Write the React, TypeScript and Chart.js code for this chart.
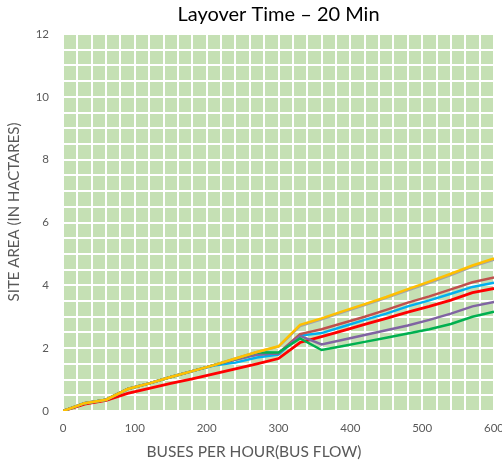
import React, { useEffect, useRef } from "react";
import { Chart, registerables } from "chart.js";

Chart.register(...registerables);

const busFlow = [0, 30, 60, 90, 120, 150, 180, 210, 240, 270, 300, 330, 360, 390, 420, 450, 480, 510, 540, 570, 600];

const yellowSeries = [0, 0.25, 0.36, 0.7, 0.88, 1.08, 1.27, 1.46, 1.67, 1.88, 2.06, 2.74, 2.95, 3.18, 3.4, 3.63, 3.88, 4.12, 4.37, 4.63, 4.86];
const graySeries = [0, 0.25, 0.36, 0.7, 0.88, 1.08, 1.27, 1.46, 1.67, 1.88, 2.05, 2.7, 2.92, 3.15, 3.37, 3.6, 3.84, 4.08, 4.33, 4.6, 4.82];
const greenSeries = [0, 0.25, 0.36, 0.7, 0.88, 1.08, 1.27, 1.46, 1.66, 1.87, 1.86, 2.31, 1.94, 2.07, 2.2, 2.33, 2.47, 2.6, 2.77, 3.0, 3.16];
const purpleSeries = [0, 0.25, 0.36, 0.7, 0.88, 1.08, 1.27, 1.46, 1.64, 1.8, 1.84, 2.39, 2.12, 2.27, 2.42, 2.57, 2.72, 2.9, 3.1, 3.33, 3.47];
const brownSeries = [0, 0.25, 0.36, 0.7, 0.88, 1.08, 1.27, 1.46, 1.64, 1.8, 1.84, 2.45, 2.6, 2.8, 3.0, 3.22, 3.45, 3.65, 3.87, 4.1, 4.25];
const blueSeries = [0, 0.25, 0.36, 0.7, 0.88, 1.08, 1.27, 1.45, 1.54, 1.7, 1.8, 2.4, 2.48, 2.69, 2.9, 3.1, 3.33, 3.52, 3.73, 3.95, 4.08];
const redSeries = [0, 0.22, 0.34, 0.56, 0.72, 0.88, 1.02, 1.18, 1.34, 1.5, 1.67, 2.18, 2.37, 2.56, 2.76, 2.95, 3.15, 3.33, 3.53, 3.77, 3.9];

const seriesNames = ["Series 1", "Series 2", "Series 3", "Series 4", "Series 5", "Series 6", "Series 7"];

const xTickLabels = [0, 100, 200, 300, 400, 500, 600];
const yTickLabels = [0, 2, 4, 6, 8, 10, 12];

const chartTitle = "Layover Time – 20 Min";
const xTitle = "BUSES PER HOUR(BUS FLOW)";
const yTitle = "SITE AREA (IN HACTARES)";

const FONT = "Lato, 'Open Sans', sans-serif";

export default function App() {
  const ref = useRef<HTMLCanvasElement | null>(null);

  useEffect(() => {
    document.body.style.margin = "0";
    const canvas = ref.current;
    if (!canvas) return;

    const toPts = (ys: number[]) => busFlow.map((x, i) => ({ x, y: ys[i] }));
    const mk = (label: string, ys: number[], color: string, w = 2.5) => ({
      label,
      data: toPts(ys),
      borderColor: color,
      backgroundColor: color,
      borderWidth: w,
      pointRadius: 0,
      tension: 0,
      fill: false,
    });

    const bgPlugin = {
      id: "bgPlugin",
      beforeDraw(chart: any) {
        const { ctx, chartArea } = chart;
        ctx.save();
        ctx.fillStyle = "#c5e0b4";
        ctx.fillRect(chartArea.left, chartArea.top, chartArea.right - chartArea.left, chartArea.bottom - chartArea.top);
        ctx.restore();
      },
      afterDraw(chart: any) {
        const { ctx, chartArea } = chart;
        ctx.save();
        ctx.fillStyle = "#000000";
        ctx.font = `20px ${FONT}`;
        ctx.textAlign = "center";
        ctx.textBaseline = "middle";
        ctx.fillText(chartTitle, (chartArea.left + chartArea.right) / 2, 15);

        ctx.fillStyle = "#595959";
        ctx.font = `15.5px ${FONT}`;
        ctx.fillText(xTitle, 254, 452);

        ctx.translate(14, 212);
        ctx.rotate(-Math.PI / 2);
        ctx.font = `15px ${FONT}`;
        ctx.fillText(yTitle, 0, 0);
        ctx.restore();
      },
    };

    const chart = new Chart(canvas, {
      type: "line",
      data: {
        datasets: [
          mk(seriesNames[0], yellowSeries, "#ffc000"),
          mk(seriesNames[1], graySeries, "#a5a5a5"),
          mk(seriesNames[2], greenSeries, "#00b050"),
          mk(seriesNames[3], purpleSeries, "#8064a2"),
          mk(seriesNames[4], brownSeries, "#c0504d"),
          mk(seriesNames[5], blueSeries, "#00b0f0"),
          mk(seriesNames[6], redSeries, "#ff0000", 2.8),
        ],
      },
      options: {
        animation: false,
        responsive: false,
        maintainAspectRatio: false,
        layout: { padding: { top: 34, right: 8, left: 0, bottom: 0 } },
        plugins: {
          legend: { display: false },
          title: { display: false },
          tooltip: { enabled: false },
        },
        scales: {
          x: {
            type: "linear",
            min: 0,
            max: 600,
            border: { display: false },
            grid: { color: "#ffffff", lineWidth: 2, drawTicks: false },
            ticks: {
              stepSize: 20,
              autoSkip: false,
              maxRotation: 0,
              padding: 10,
              color: "#595959",
              font: { family: FONT, size: 11.5 },
              callback: (v: any) => (xTickLabels.includes(Number(v)) ? String(v) : ""),
            },
            title: { display: false, text: xTitle },
            afterFit: (s: any) => {
              s.height = 57;
              s.paddingLeft = 0;
              s.paddingRight = 0;
            },
          },
          y: {
            min: 0,
            max: 12,
            border: { display: false },
            grid: { color: "#ffffff", lineWidth: 2, drawTicks: false },
            ticks: {
              stepSize: 0.5,
              autoSkip: false,
              padding: 14,
              color: "#595959",
              font: { family: FONT, size: 11.5 },
              callback: (v: any) => (yTickLabels.includes(Number(v)) ? String(v) : ""),
            },
            title: { display: false, text: yTitle },
            afterFit: (s: any) => {
              s.width = 63;
              s.paddingTop = 0;
              s.paddingBottom = 0;
            },
          },
        },
      },
      plugins: [bgPlugin],
    });

    return () => chart.destroy();
  }, []);

  return (
    <div style={{ width: 502, height: 468 }}>
      <canvas ref={ref} width={502} height={468} style={{ display: "block" }} />
    </div>
  );
}
